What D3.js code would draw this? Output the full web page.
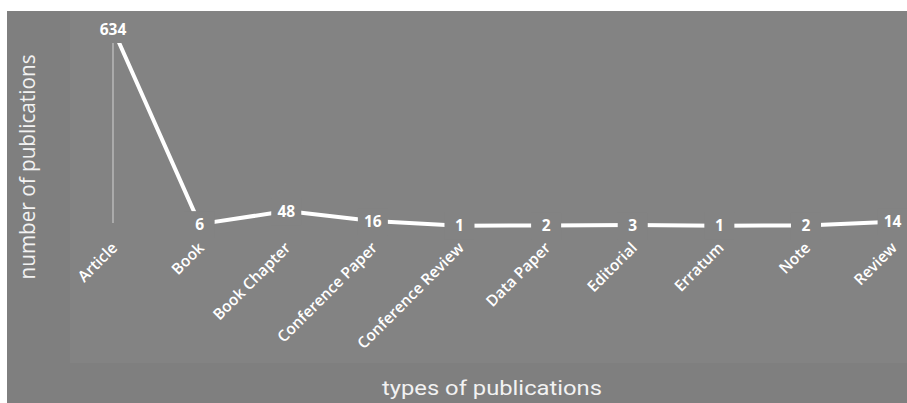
<!DOCTYPE html>
<html>
<head>
<meta charset="utf-8">
<script src="https://cdn.jsdelivr.net/npm/d3@7/dist/d3.min.js"></script>
<style>
  html, body { margin: 0; padding: 0; background: #ffffff; }
  svg { display: block; }
</style>
</head>
<body>
<svg id="chart" width="907" height="403"></svg>
<script>
// Publication counts by document type
const categories = ["Article", "Book", "Book Chapter", "Conference Paper", "Conference Review",
                    "Data Paper", "Editorial", "Erratum", "Note", "Review"];
const counts = [634, 6, 48, 16, 1, 2, 3, 1, 2, 14];
const xTitle = "types of publications";
const yTitle = "number of publications";

const W = 907, H = 403;
const svg = d3.select("#chart");

const frameColor = "#7f7f7f";
const plotColor = "#838383";

// outer chart area and inner plot area
svg.append("rect").attr("x", 7).attr("y", 11).attr("width", W - 7).attr("height", H - 11)
  .attr("fill", frameColor);
svg.append("rect").attr("x", 70).attr("y", 11).attr("width", W - 70).attr("height", 352)
  .attr("fill", plotColor);

const x = d3.scalePoint().domain(categories).range([113, 892.6]);
const y = d3.scaleLinear().domain([0, 634]).range([226, 29]);

const data = categories.map((c, i) => ({ c, v: counts[i] }));

// thin drop line under the first point
svg.append("line")
  .attr("x1", x(categories[0])).attr("x2", x(categories[0]))
  .attr("y1", y(counts[0])).attr("y2", y(0) - 3)
  .attr("stroke", "#e6e6e6").attr("stroke-width", 1).attr("opacity", 0.8);

// series line
const line = d3.line().x(d => x(d.c)).y(d => y(d.v));
svg.append("path").datum(data)
  .attr("d", line)
  .attr("fill", "none")
  .attr("stroke", "#ffffff")
  .attr("stroke-width", 4)
  .attr("stroke-linejoin", "round");

// value labels with a plot-coloured backing box
const lab = svg.append("g").selectAll("g").data(data).join("g")
  .attr("transform", d => `translate(${x(d.c)},${y(d.v)})`);
lab.append("rect")
  .attr("x", -15).attr("y", -13).attr("width", 30).attr("height", 27)
  .attr("fill", plotColor);
lab.append("text")
  .attr("text-anchor", "middle")
  .attr("dy", "0.36em")
  .attr("fill", "#ffffff")
  .attr("font-family", "'Open Sans', sans-serif")
  .attr("font-weight", 700)
  .attr("font-size", 15.5)
  .text(d => d.v);

// category axis with rotated labels
const axis = svg.append("g")
  .call(d3.axisBottom(x).tickSize(0).tickPadding(0));
axis.select(".domain").remove();
axis.selectAll("text")
  .attr("x", 0).attr("y", 0).attr("dy", "0.35em")
  .attr("text-anchor", "end")
  .attr("transform", "translate(1,245) rotate(-45)")
  .attr("fill", "#ffffff")
  .attr("font-family", "'Open Sans', sans-serif")
  .attr("font-weight", 600)
  .attr("font-size", 15.5);

// axis titles
svg.append("text")
  .attr("x", 492).attr("y", 395)
  .attr("text-anchor", "middle")
  .attr("fill", "#f2f2f2")
  .attr("font-family", "Roboto, sans-serif")
  .attr("font-size", 21)
  .attr("textLength", 220).attr("lengthAdjust", "spacingAndGlyphs")
  .text(xTitle);

svg.append("text")
  .attr("transform", "translate(35,167) rotate(-90)")
  .attr("text-anchor", "middle")
  .attr("fill", "#f2f2f2")
  .attr("font-family", "'Open Sans', sans-serif")
  .attr("font-size", 21)
  .attr("textLength", 225).attr("lengthAdjust", "spacingAndGlyphs")
  .text(yTitle);
</script>
</body>
</html>
